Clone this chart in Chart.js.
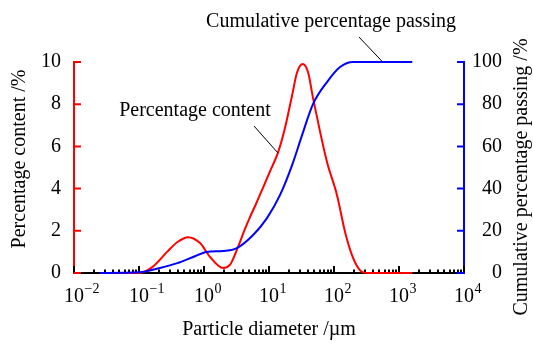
<!DOCTYPE html>
<html>
<head>
<meta charset="utf-8">
<script src="https://cdn.jsdelivr.net/npm/chart.js@4.4.1/dist/chart.umd.min.js"></script>
<style>
  html, body { margin: 0; padding: 0; background: #fff; }
  #wrap { width: 533px; height: 347px; }
</style>
</head>
<body>
<div id="wrap"><canvas id="psdChart"></canvas></div>
<script>
// particle diameter (µm) vs percentage content (%)
const contentDiameter = [0.025, 0.1, 0.16, 0.27, 0.39, 0.57, 0.87, 1.24, 1.96, 2.5, 3.3, 4.27, 5.1, 6.3, 8.1, 10.4, 13.7, 17.6, 22.6, 27, 33, 40, 47.5, 61, 78, 111, 148, 189, 250, 330, 1600];
const contentPercent  = [0, 0, 0.28, 1.0, 1.47, 1.7, 1.42, 0.76, 0.24, 0.38, 1.2, 2.09, 2.65, 3.27, 4.05, 4.83, 5.69, 6.87, 8.4, 9.5, 9.9, 9.5, 8.3, 6.7, 5.26, 3.7, 1.94, 0.85, 0.14, 0, 0];

// particle diameter (µm) vs cumulative percentage passing (%)
const passingDiameter = [0.025, 0.1, 0.21, 0.39, 0.68, 1.1, 1.96, 3.2, 5.7, 9.3, 14.8, 22.6, 32, 47.5, 78, 124, 196, 1600];
const passingPercent  = [0, 0.3, 2.4, 4.7, 7.6, 10, 10.4, 11.8, 18, 26, 37, 51, 65, 80, 90.5, 97.6, 100, 100];

const xTickValues = [0.01, 0.1, 1, 10, 100, 1000, 10000];
const xTickExponents = ['\u22122', '\u22121', '0', '1', '2', '3', '4'];
const leftTickValues = [0, 2, 4, 6, 8, 10];
const rightTickValues = [0, 20, 40, 60, 80, 100];

const serif = "'Liberation Serif', 'Times New Roman', serif";

function toPoints(xs, ys) {
    return xs.map((x, i) => ({ x: x, y: ys[i] }));
}

// short inward ticks on all three axes, decade ticks longer on the log axis
const inwardTicks = {
    id: 'inwardTicks',
    beforeDatasetsDraw(chart) {
        const { ctx, chartArea: area, scales } = chart;
        ctx.save();
        ctx.lineWidth = 2;

        ctx.strokeStyle = '#000';
        ctx.beginPath();
        for (let e = -2; e <= 4; e++) {
            for (let m = 1; m <= 9; m++) {
                const v = m * Math.pow(10, e);
                if (v > 10000) break;
                const px = Math.round(scales.x.getPixelForValue(v));
                const len = m === 1 ? 7 : 3.5;
                ctx.moveTo(px, area.bottom);
                ctx.lineTo(px, area.bottom - len);
            }
        }
        ctx.stroke();

        ctx.strokeStyle = '#ff0000';
        ctx.beginPath();
        leftTickValues.forEach(v => {
            const py = scales.y.getPixelForValue(v);
            ctx.moveTo(area.left, py);
            ctx.lineTo(area.left + 7, py);
        });
        ctx.stroke();

        ctx.strokeStyle = '#0000ff';
        ctx.beginPath();
        rightTickValues.forEach(v => {
            const py = scales.y1.getPixelForValue(v);
            ctx.moveTo(area.right, py);
            ctx.lineTo(area.right - 7, py);
        });
        ctx.stroke();
        ctx.restore();
    }
};

// power-of-ten tick labels, axis titles and the two labels with leader lines
const chartText = {
    id: 'chartText',
    afterDraw(chart) {
        const { ctx, chartArea: area, scales } = chart;
        ctx.save();
        ctx.fillStyle = '#000';

        ctx.textAlign = 'left';
        ctx.textBaseline = 'alphabetic';
        xTickValues.forEach((v, i) => {
            const px = scales.x.getPixelForValue(v);
            ctx.font = '20px ' + serif;
            const w = ctx.measureText('10').width;
            const x0 = px - w / 2;
            ctx.fillText('10', x0, 302);
            ctx.font = '14px ' + serif;
            ctx.fillText(xTickExponents[i], x0 + w + 0.5, 293);
        });

        ctx.font = '20px ' + serif;
        ctx.textAlign = 'center';
        ctx.textBaseline = 'middle';

        ctx.fillText('Particle diameter /\u00B5m', (area.left + area.right) / 2, 330);

        ctx.save();
        ctx.translate(20, 159);
        ctx.rotate(-Math.PI / 2);
        ctx.fillText('Percentage content /%', 0, 0);
        ctx.restore();

        ctx.save();
        ctx.translate(522, 177);
        ctx.rotate(-Math.PI / 2);
        ctx.fillText('Cumulative percentage passing /%', 0, 0);
        ctx.restore();

        ctx.fillText('Percentage content', 195, 111);
        ctx.fillText('Cumulative percentage passing', 331, 22);

        ctx.strokeStyle = '#000';
        ctx.lineWidth = 1;
        ctx.beginPath();
        ctx.moveTo(254, 126);
        ctx.lineTo(scales.x.getPixelForValue(13.7), scales.y.getPixelForValue(5.69));
        ctx.moveTo(359, 37);
        ctx.lineTo(scales.x.getPixelForValue(560), scales.y1.getPixelForValue(100));
        ctx.stroke();
        ctx.restore();
    }
};

const ctx = document.getElementById('psdChart');

new Chart(ctx, {
    type: 'line',
    data: {
        datasets: [
            {
                label: 'Percentage content',
                data: toPoints(contentDiameter, contentPercent),
                yAxisID: 'y',
                borderColor: '#ff0000',
                borderWidth: 2,
                pointRadius: 0,
                cubicInterpolationMode: 'monotone',
                clip: false,
                order: 2
            },
            {
                label: 'Cumulative percentage passing',
                data: toPoints(passingDiameter, passingPercent),
                yAxisID: 'y1',
                borderColor: '#0000ff',
                borderWidth: 2,
                pointRadius: 0,
                cubicInterpolationMode: 'monotone',
                clip: false,
                order: 1
            }
        ]
    },
    options: {
        responsive: true,
        maintainAspectRatio: false,
        animation: false,
        layout: { padding: { top: 62, left: 0, right: 31, bottom: 0 } },
        plugins: {
            legend: { display: false },
            tooltip: { enabled: false }
        },
        scales: {
            x: {
                type: 'logarithmic',
                position: 'bottom',
                min: 0.01,
                max: 10000,
                afterBuildTicks: scale => {
                    scale.ticks = xTickValues.map(v => ({ value: v }));
                },
                afterFit: scale => { scale.height = 74; },
                grid: { display: false, drawTicks: false },
                border: { color: '#000', width: 2 },
                ticks: { display: false }
            },
            y: {
                position: 'left',
                min: 0,
                max: 10,
                afterBuildTicks: scale => {
                    scale.ticks = leftTickValues.map(v => ({ value: v }));
                },
                afterFit: scale => { scale.width = 74; },
                grid: { display: false, drawTicks: false },
                border: { color: '#ff0000', width: 2 },
                ticks: {
                    padding: 13,
                    color: '#000',
                    font: { family: serif, size: 20 }
                }
            },
            y1: {
                position: 'right',
                min: 0,
                max: 100,
                afterBuildTicks: scale => {
                    scale.ticks = rightTickValues.map(v => ({ value: v }));
                },
                afterFit: scale => { scale.width = 38; },
                grid: { display: false, drawTicks: false },
                border: { color: '#0000ff', width: 2 },
                ticks: {
                    padding: 9,
                    crossAlign: 'far',
                    color: '#000',
                    font: { family: serif, size: 20 }
                }
            }
        }
    },
    plugins: [inwardTicks, chartText]
});
</script>
</body>
</html>
